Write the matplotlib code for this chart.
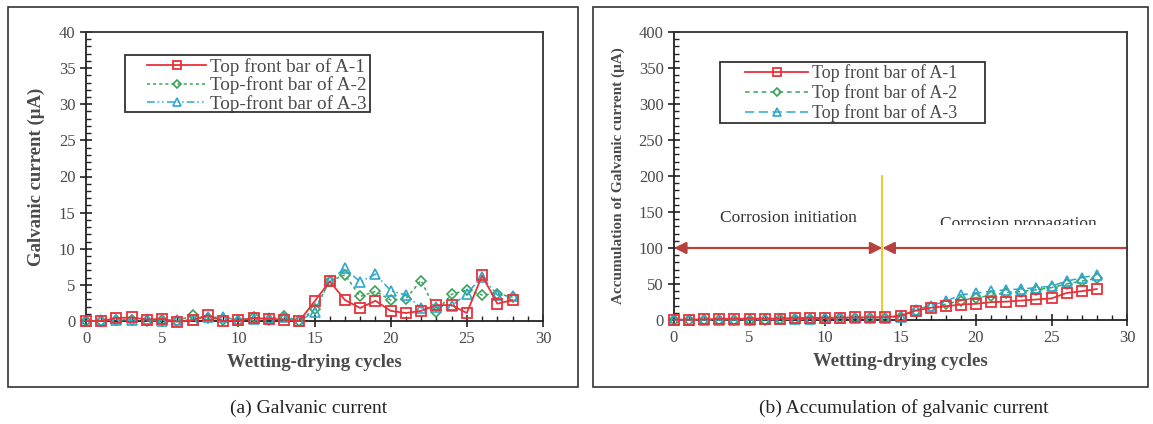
import matplotlib
matplotlib.use("Agg")
import matplotlib.pyplot as plt
from matplotlib.patches import Rectangle
from matplotlib.ticker import MultipleLocator

plt.rcParams['font.family'] = ['Liberation Serif', 'DejaVu Serif']

cycles = list(range(29))

# (a) Galvanic current (uA)
a1_current = [0, 0, 0.4, 0.5, 0.2, 0.3, -0.1, 0.1, 0.8, 0, 0.1, 0.4, 0.3, 0.2, 0,
              2.7, 5.5, 2.9, 1.8, 2.8, 1.4, 1.1, 1.4, 2.2, 2.2, 1.1, 6.3, 2.4, 2.9]
a2_current = [0, 0, 0.2, 0.2, 0, 0.1, 0, 0.8, 0.4, 0.2, 0, 0.5, 0.2, 0.7, 0,
              1.6, 5.5, 6.4, 3.4, 4.1, 2.9, 3.1, 5.6, 1.3, 3.7, 4.3, 3.6, 3.8, 3.3]
a3_current = [0, 0.1, 0.1, 0.1, 0.3, 0, 0.1, 0.1, 0.6, 0.5, 0.2, 0.3, 0.4, 0.5, 0,
              1.3, 5.6, 7.3, 5.4, 6.5, 4.2, 3.6, 1.8, 2.0, 2.1, 3.8, 6.1, 3.6, 3.4]

# (b) Accumulation of galvanic current (uA)
a1_accum = [0.5, 0.5, 1, 1.4, 1.6, 1.9, 1.9, 2, 2.8, 2.8, 2.9, 3.3, 3.6, 3.8, 3.8,
            6, 13, 17, 19, 21.5, 22.5, 24.8, 25.5, 27, 28.5, 30, 37.5, 40, 43]
a2_accum = [0, 0, 0.2, 0.4, 0.4, 0.5, 0.5, 1.3, 1.7, 1.9, 1.9, 2.4, 2.6, 3.3, 3.3,
            4.8, 12, 18, 22, 27, 31, 34, 38, 39.5, 42, 45, 50, 54, 58]
a3_accum = [0, 0.1, 0.2, 0.3, 0.6, 0.6, 0.7, 0.8, 1.4, 1.9, 2.1, 2.4, 2.8, 3.3, 3.3,
            4.6, 14.5, 20, 26, 35, 37.5, 40, 42, 43, 45, 47, 54, 58.5, 63]

labels_a = ["Top front bar of A-1", "Top-front bar of A-2", "Top-front bar of A-3"]
labels_b = ["Top front bar of A-1", "Top front bar of A-2", "Top front bar of A-3"]

RED = '#e8323a'
GREEN = '#3aa35a'
CYAN = '#2fa8cc'
TXT = '#4a4a4a'

W, H = 1153, 424
fig = plt.figure(figsize=(W / 100, H / 100), dpi=100)


def px_axes(x0, x1, ytop, ybot):
    return fig.add_axes([x0 / W, 1 - ybot / H, (x1 - x0) / W, (ybot - ytop) / H])


def px_rect(x0, x1, ytop, ybot, lw=1.2):
    fig.add_artist(Rectangle((x0 / W, 1 - ybot / H), (x1 - x0) / W, (ybot - ytop) / H,
                             transform=fig.transFigure, fill=False, edgecolor='#333',
                             lw=lw, zorder=10))


def style(ax, ymax, ymaj, ymin):
    ax.set_xlim(0, 30)
    ax.set_ylim(0, ymax)
    ax.xaxis.set_major_locator(MultipleLocator(5))
    ax.xaxis.set_minor_locator(MultipleLocator(1))
    ax.yaxis.set_major_locator(MultipleLocator(ymaj))
    ax.yaxis.set_minor_locator(MultipleLocator(ymin))
    ax.tick_params(which='major', direction='inout', length=8, width=1.2,
                   colors='#222', labelcolor=TXT, labelsize=12)
    ax.tick_params(which='minor', direction='in', length=3.5, width=1.0, colors='#222')
    for s in ax.spines.values():
        s.set_linewidth(1.3)
        s.set_color('#222')
    for s in ('top', 'right'):
        ax.spines[s].set_color('#333')
    ax.set_xlabel("Wetting-drying cycles", fontsize=13.5, fontweight='bold', color=TXT, labelpad=5)


def draw_series(ax, ys, labels, second_ls, third_ls):
    ax.plot(cycles, ys[0], color=RED, lw=1.3, ls='-', marker='s', ms=7,
            mfc='none', mec=RED, mew=1.3, label=labels[0], clip_on=False, zorder=4)
    ax.plot(cycles, ys[1], color=GREEN, lw=1.1, ls=second_ls, marker='D', ms=5,
            mfc='none', mec=GREEN, mew=1.2, label=labels[1], clip_on=False, zorder=3)
    ax.plot(cycles, ys[2], color=CYAN, lw=1.1, ls=third_ls, marker='^', ms=7,
            mfc='none', mec=CYAN, mew=1.2, label=labels[2], clip_on=False, zorder=3)


def legend(ax, x_handle, y_mid, fs, spacing, hlen):
    leg = ax.legend(loc='center left', bbox_to_anchor=(x_handle / W, 1 - y_mid / H),
                    bbox_transform=fig.transFigure, markerscale=0.8,
                    frameon=False, fontsize=fs, handlelength=hlen, borderpad=0,
                    labelspacing=spacing, handletextpad=0.2, borderaxespad=0)
    for t in leg.get_texts():
        t.set_color(TXT)
    return leg


# ---- panel (a)
ax1 = px_axes(86, 543, 32, 321)
style(ax1, 40, 5, 1)
draw_series(ax1, [a1_current, a2_current, a3_current], labels_a,
            (0, (2, 2)), (0, (5, 2, 1, 2, 1, 2)))
ax1.set_ylabel("Galvanic current (μA)", fontsize=13.5, fontweight='bold', color=TXT, labelpad=10)
legend(ax1, 147, 85.5, 13.8, 0.02, 3.1)
px_rect(125, 370, 55, 112, lw=1.3)

# ---- panel (b)
ax2 = px_axes(674, 1127, 32, 320)
style(ax2, 400, 50, 10)
draw_series(ax2, [a1_accum, a2_accum, a3_accum], labels_b, (0, (3, 2.5)), (0, (6, 3)))
ax2.set_ylabel("Accumulation of Galvanic current (μA)", fontsize=11, fontweight='bold',
               color=TXT, labelpad=10)
legend(ax2, 745, 93, 13, 0.12, 3.5)
px_rect(720, 985, 62, 123, lw=1.3)

# phase annotations
ax2.plot([13.8, 13.8], [0, 200], color='#f2c318', lw=1.3, zorder=2)
ARW = '#b5423c'
ax2.annotate('', xy=(0, 100), xytext=(13.8, 100),
             arrowprops=dict(arrowstyle='<|-|>', color=ARW, lw=1.6, mutation_scale=18,
                             shrinkA=0, shrinkB=0), zorder=2)
ax2.annotate('', xy=(13.8, 100), xytext=(30, 100),
             arrowprops=dict(arrowstyle='-|>', color=ARW, lw=1.6, mutation_scale=18,
                             shrinkA=0, shrinkB=0), zorder=2)
ax2.text(7.6, 141, "Corrosion initiation", ha='center', va='center', fontsize=12.5, color='#333')
ax2.text(22.8, 134, "Corrosion propagation", ha='center', va='center', fontsize=12.5, color='#333',
         zorder=5)
ax2.add_patch(Rectangle((17, 112), 12.8, 20, facecolor='white', edgecolor='none', zorder=6))

# panel frames and captions
px_rect(8, 578, 7, 387)
px_rect(593, 1148, 7, 387)
fig.text(309 / W, 1 - 408 / H, "(a) Galvanic current", ha='center', va='center',
         fontsize=14, color='#222')
fig.text(904 / W, 1 - 408 / H, "(b) Accumulation of galvanic current", ha='center',
         va='center', fontsize=14, color='#222')

fig.savefig("out.png", dpi=100)
